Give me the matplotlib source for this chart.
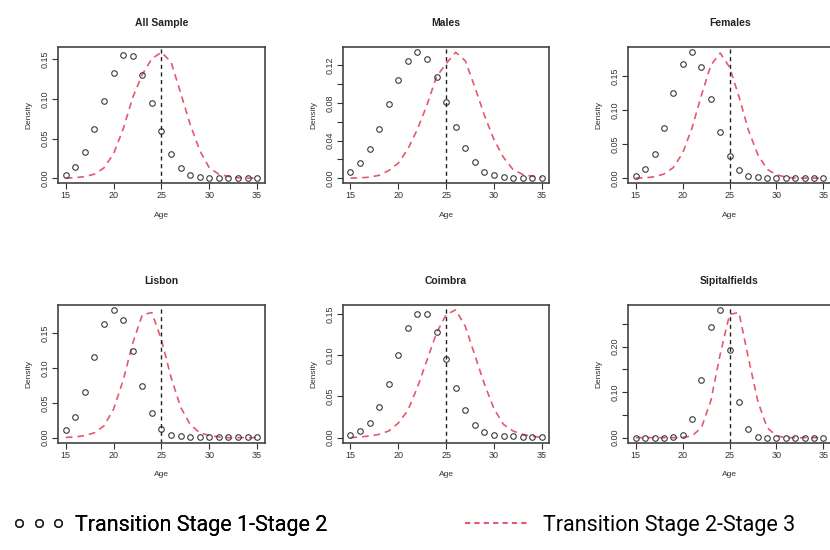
import numpy as np
import matplotlib
matplotlib.use("Agg")
import matplotlib.pyplot as plt
from matplotlib.lines import Line2D
from matplotlib.ticker import MultipleLocator, FixedLocator, FuncFormatter

ages = list(range(15, 36))

titles = ["All Sample", "Males", "Females", "Lisbon", "Coimbra", "Sipitalfields"]

# Transition Stage 1-Stage 2 (points)
all_pts = [0.004, 0.0146, 0.0325, 0.062, 0.097, 0.133, 0.155, 0.154, 0.130, 0.095, 0.059,
           0.031, 0.013, 0.0045, 0.0015, 0.0005, 0.0005, 0.0005, 0.0005, 0.0005, 0.0005]
males_pts = [0.007, 0.016, 0.031, 0.052, 0.079, 0.105, 0.125, 0.134, 0.127, 0.108, 0.081,
             0.054, 0.032, 0.017, 0.007, 0.003, 0.001, 0.0005, 0.0005, 0.0005, 0.0005]
females_pts = [0.003, 0.013, 0.035, 0.074, 0.125, 0.168, 0.185, 0.164, 0.116, 0.068, 0.0325,
               0.012, 0.0034, 0.001, 0.0005, 0.0005, 0.0005, 0.0005, 0.0005, 0.0005, 0.0005]
lisbon_pts = [0.011, 0.030, 0.0655, 0.1165, 0.164, 0.184, 0.170, 0.125, 0.074, 0.0355, 0.012,
              0.0044, 0.002, 0.0005, 0.0005, 0.0005, 0.0005, 0.0005, 0.0005, 0.0005, 0.0005]
coimbra_pts = [0.003, 0.0086, 0.018, 0.037, 0.065, 0.100, 0.133, 0.150, 0.150, 0.128, 0.095,
               0.060, 0.033, 0.0157, 0.007, 0.0035, 0.0024, 0.0016, 0.001, 0.001, 0.001]
spital_pts = [0.0, 0.0, 0.0, 0.0, 0.0005, 0.005, 0.040, 0.127, 0.244, 0.281, 0.192,
              0.079, 0.020, 0.002, 0.0, 0.0, 0.0, 0.0, 0.0, 0.0, 0.0]

# Transition Stage 2-Stage 3 (red dashed curve)
all_curve = [0.0, 0.0005, 0.002, 0.005, 0.013, 0.031, 0.062, 0.102, 0.131, 0.151, 0.159,
             0.147, 0.108, 0.068, 0.035, 0.013, 0.005, 0.002, 0.0005, 0.0, 0.0]
males_curve = [0.0, 0.0003, 0.001, 0.003, 0.008, 0.016, 0.031, 0.052, 0.078, 0.108, 0.122,
               0.134, 0.125, 0.097, 0.067, 0.041, 0.022, 0.009, 0.004, 0.002, 0.0007]
females_curve = [0.0, 0.0005, 0.002, 0.006, 0.0155, 0.037, 0.074, 0.122, 0.166, 0.184, 0.163,
                 0.120, 0.071, 0.035, 0.013, 0.005, 0.0015, 0.0, 0.0, 0.0, 0.0]
lisbon_curve = [0.0003, 0.001, 0.003, 0.007, 0.017, 0.041, 0.0825, 0.136, 0.177, 0.180, 0.141,
                0.087, 0.044, 0.019, 0.007, 0.003, 0.001, 0.0, 0.0, 0.0, 0.0]
coimbra_curve = [0.0, 0.0008, 0.002, 0.004, 0.008, 0.0176, 0.033, 0.061, 0.094, 0.127, 0.149,
                 0.155, 0.135, 0.100, 0.065, 0.035, 0.016, 0.008, 0.004, 0.0015, 0.0005]
spital_curve = [0.0, 0.0, 0.0, 0.0, 0.0, 0.0005, 0.004, 0.022, 0.081, 0.183, 0.271,
                0.275, 0.176, 0.081, 0.022, 0.004, 0.0, 0.0, 0.0, 0.0, 0.0]

points = [all_pts, males_pts, females_pts, lisbon_pts, coimbra_pts, spital_pts]
curves = [all_curve, males_curve, females_curve, lisbon_curve, coimbra_curve, spital_curve]

# (tick step, label step) for the y axes
y_ticks = [(0.05, 0.05), (0.02, 0.04), (0.05, 0.05), (0.05, 0.05), (0.05, 0.05), (0.05, 0.10)]
cut_age = 25

RED = "#e3596f"
INK = "#3a3a3a"

fig = plt.figure(figsize=(8.3, 5.5), dpi=100)
plt.rcParams['font.family'] = ['Liberation Sans', 'DejaVu Sans']

lefts = [0.070, 0.413, 0.757]
widths = [0.249, 0.249, 0.244]
rows = [(0.667, 0.247), (0.195, 0.251)]

for i, title in enumerate(titles):
    r, c = divmod(i, 3)
    ax = fig.add_axes([lefts[c], rows[r][0], widths[c], rows[r][1]])
    ax.plot(ages, curves[i], color=RED, ls=(0, (4, 3)), lw=1.2)
    ax.plot(ages, points[i], ls="none", marker="o", ms=4, mfc="none", mec=INK, mew=0.8)
    ax.axvline(cut_age, color="#222222", ls=(0, (3, 2.5)), lw=1.0)
    ax.margins(x=0.04, y=0.04)

    step, lab = y_ticks[i]
    top = max(max(points[i]), max(curves[i]))
    tk = np.arange(0, top + 1e-9, step)
    ax.yaxis.set_major_locator(FixedLocator(tk))
    ax.yaxis.set_major_formatter(FuncFormatter(
        lambda v, p, lab=lab: f"{v:.2f}" if abs(v / lab - round(v / lab)) < 1e-6 else ""))
    ax.xaxis.set_major_locator(MultipleLocator(5))

    ax.tick_params(direction="out", length=4, width=0.8, labelsize=6.5, pad=2, colors="#333333")
    for lbl in ax.get_yticklabels():
        lbl.set_rotation(90)
        lbl.set_va("center")
    for s in ax.spines.values():
        s.set_linewidth(1.2)
        s.set_color("#444444")

    ax.set_title(title, fontsize=7.5, fontweight="bold", pad=15, color="#222222")
    ax.set_xlabel("Age", fontsize=6, labelpad=8, color="#333333")
    ax.set_ylabel("Density", fontsize=6, labelpad=6, color="#333333")

# legend at the bottom
leg_font = {"family": ["Roboto", "DejaVu Sans"], "size": 15.5}
h1 = Line2D([], [], ls="none", marker="o", ms=5.5, mfc="none", mec="#222222", mew=1.0)
h2 = Line2D([], [], color=RED, ls=(0, (2.5, 2)), lw=1.5)
leg1 = fig.legend([h1], ["Transition Stage 1-Stage 2"], loc="center left",
                  bbox_to_anchor=(0.0, 0.045), frameon=False, numpoints=3,
                  handlelength=2.4, handletextpad=0.5, borderaxespad=0.2,
                  prop=leg_font)
fig.add_artist(leg1)
fig.legend([h2], ["Transition Stage 2-Stage 3"], loc="center left",
           bbox_to_anchor=(0.545, 0.045), frameon=False,
           handlelength=2.9, handletextpad=0.7, borderaxespad=0.2,
           prop=leg_font)

fig.savefig("out.png", dpi=100)
